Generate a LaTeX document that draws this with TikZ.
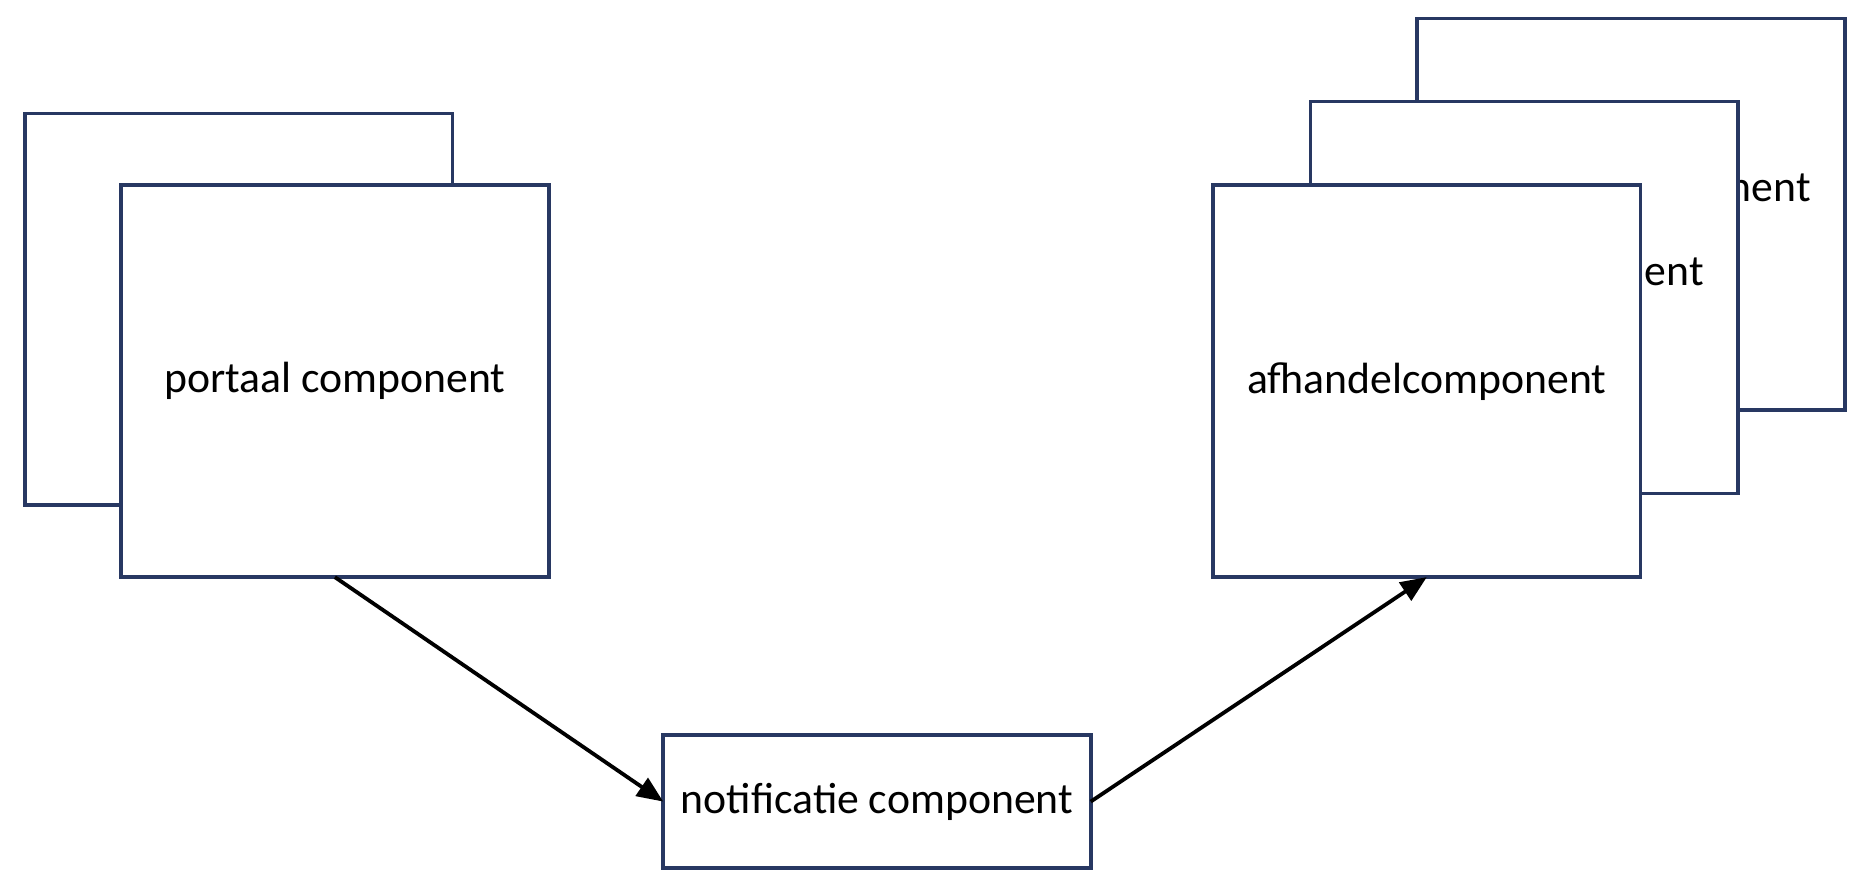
\documentclass[tikz,border=0pt]{standalone}
\usepackage{fontspec}
\setmainfont{Carlito}
\usetikzlibrary{arrows.meta}
\definecolor{boxline}{RGB}{40,56,98}
\tikzset{
  comp/.style={draw=boxline, line width=1.6pt, fill=white, inner sep=0pt, outer sep=0pt,
    minimum width=180pt, minimum height=165pt, font=\fontsize{18.4}{22}\selectfont},
  smallcomp/.style={comp, minimum height=56pt},
  lbl/.style={inner sep=0pt, font=\fontsize{18.4}{22}\selectfont},
  conn/.style={line width=1.6pt, -{Triangle[length=11pt, width=9pt]}}
}
\begin{document}
\begin{tikzpicture}[x=0.5pt, y=-0.5pt]
\useasboundingbox (0,0) rectangle (1568,741);
% portal stack
\node[comp] (pback) at (201,260.5) {};
\node[comp] (portal) at (282,321) {portaal component};
% afhandel stack
\node[comp] (aback) at (1373.5,180.5) {};
\node[lbl] (abacklbl) at (1373.5,160) {afhandelcomponent};
\node[comp] (amid) at (1283.5,250.5) {};
\node[lbl] (amidlbl) at (1283.5,230) {afhandelcomponent};
\node[comp] (afh) at (1201.5,321) {afhandelcomponent};
% notificatie
\node[smallcomp] (notif) at (738.5,675) {notificatie component};
% connectors
\draw[conn] (portal.south) -- (notif.west);
\draw[conn] (notif.east) -- (afh.south);
\end{tikzpicture}
\end{document}
